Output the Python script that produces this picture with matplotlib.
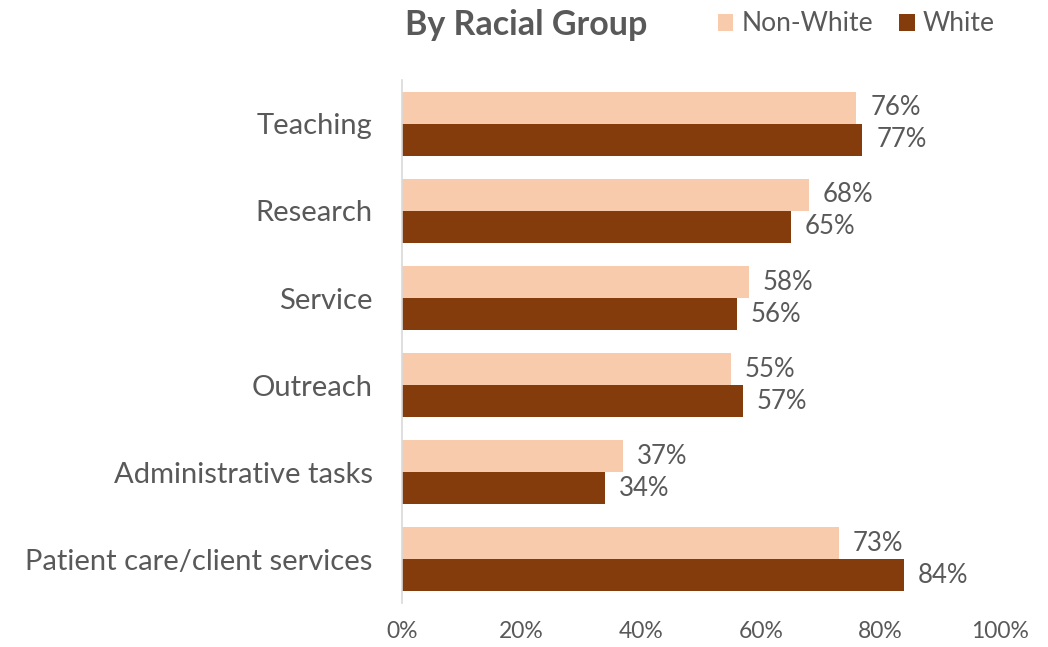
import matplotlib.pyplot as plt
import numpy as np

plt.rcParams['font.family'] = ['Lato', 'DejaVu Sans']

categories = ['Teaching', 'Research', 'Service', 'Outreach',
              'Administrative tasks', 'Patient care/client services']
non_white = [76, 68, 58, 55, 37, 73]
white = [77, 65, 56, 57, 34, 84]

grey = '#595959'
light = '#F8CBAD'
dark = '#843C0C'

fig = plt.figure(figsize=(10.48, 6.47), dpi=100)
ax = fig.add_axes([0.3836, 0.068, 0.5706, 0.808])

y = np.arange(len(categories))
h = 0.367
b1 = ax.barh(y - h / 2, non_white, height=h, color=light, label='Non-White')
b2 = ax.barh(y + h / 2, white, height=h, color=dark, label='White')

for bars, vals in ((b1, non_white), (b2, white)):
    for bar, v in zip(bars, vals):
        ax.annotate(f'{v}%', (v, bar.get_y() + bar.get_height() / 2),
                    xytext=(10, 0), textcoords='offset points',
                    va='center', ha='left', fontsize=18.5, color=grey)

ax.set_ylim(len(categories) - 0.5, -0.5)
ax.set_xlim(0, 100)
ax.set_yticks(y)
ax.set_yticklabels(categories, fontsize=21, color=grey)
ax.set_xticks(range(0, 101, 20))
ax.set_xticklabels([f'{t}%' for t in range(0, 101, 20)], fontsize=16.5, color=grey)
ax.tick_params(axis='both', length=0)
ax.tick_params(axis='y', pad=21)
ax.tick_params(axis='x', pad=13)

for s in ('top', 'right', 'bottom'):
    ax.spines[s].set_visible(False)
ax.spines['left'].set_color('#D9D9D9')
ax.spines['left'].set_linewidth(1.2)

fig.text(0.386, 0.962, 'By Racial Group', fontsize=24.5, fontweight='bold',
         color=grey, va='center', ha='left')
fig.legend(loc='center left', bbox_to_anchor=(0.662, 0.963), ncol=2, frameon=False,
           fontsize=19, labelcolor=grey, handlelength=0.6, handleheight=0.6,
           handletextpad=0.3, columnspacing=1.0)

fig.savefig('out.png', dpi=100)
